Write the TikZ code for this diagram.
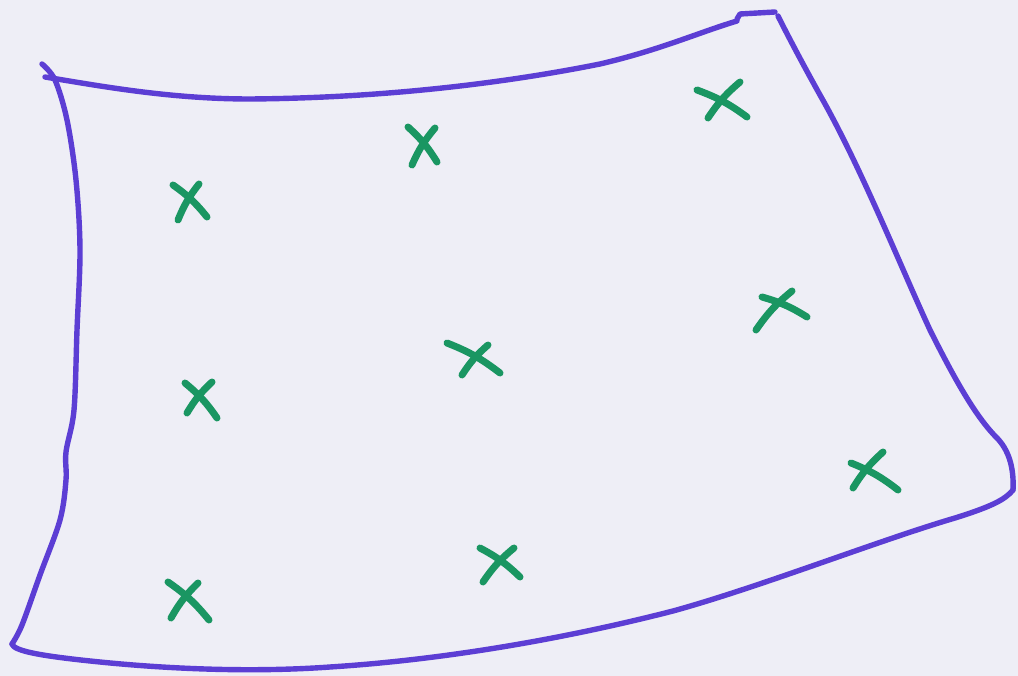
\documentclass[tikz,border=0pt]{standalone}
\usetikzlibrary{calc}
\definecolor{paper}{RGB}{238,238,246}
\definecolor{ink}{RGB}{92,62,212}
\definecolor{marker}{RGB}{26,150,98}
\tikzset{
  outline/.style={draw=ink, line width=5.4pt, line cap=round, line join=round},
  cross/.style={draw=marker, line width=7pt, line cap=round},
}
\begin{document}
\begin{tikzpicture}[x=1pt,y=-1pt]
\fill[paper] (0,0) rectangle (1018,676);
\useasboundingbox (0,0) rectangle (1018,676);
% left edge (with the small hook at the top)
\draw[outline] plot[smooth, tension=0.55] coordinates {(42,64) (55,80) (67,120) (76,180) (80,250) (77,330) (74,410) (66,452) (66,480) (60,520) (40,575) (22,625) (12,644)};
% bottom edge
\draw[outline] (12,644) .. controls (14,651) and (40,656) .. (100,662)
  .. controls (180,670) and (260,672) .. (330,667)
  .. controls (440,660) and (560,640) .. (673,611)
  .. controls (760,587) and (880,540) .. (955,518)
  .. controls (990,507) and (1005,500) .. (1013,490);
% right edge
\draw[outline] (1013,490) .. controls (1014,470) and (1010,450) .. (995,436)
  .. controls (975,415) and (955,380) .. (930,330)
  .. controls (900,265) and (860,165) .. (820,95)
  .. controls (805,68) and (790,40) .. (778,16);
% top edge
\draw[outline] (775,12) -- (740,14) -- (737,19);
\draw[outline] (737,21) .. controls (700,32) and (660,50) .. (600,64)
  .. controls (500,84) and (380,98) .. (250,99)
  .. controls (170,99) and (100,86) .. (45,77);
% crosses
\foreach \ax/\ay/\bx/\by/\cx/\cy/\dx/\dy in {
  173/185/207/217/199/184/178/220,
  408/127/437/162/435/128/412/165,
  697/90/747/117/740/82/708/118,
  447/343/500/373/488/345/462/375,
  762/297/807/317/792/291/756/330,
  185/383/217/418/212/382/187/413,
  480/548/520/577/514/548/483/582,
  851/463/898/490/883/452/853/488,
  168/582/209/620/198/583/171/618}{
  \draw[cross] (\ax,\ay) to[bend left=8] (\bx,\by);
  \draw[cross] (\cx,\cy) to[bend right=8] (\dx,\dy);
}
\end{tikzpicture}
\end{document}
